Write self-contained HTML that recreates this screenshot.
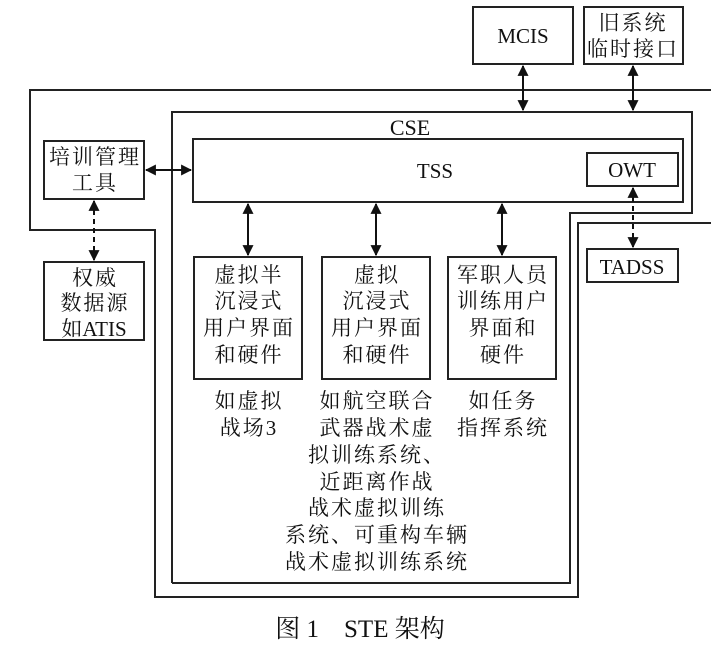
<!DOCTYPE html>
<html><head><meta charset="utf-8"><style>
html,body{margin:0;padding:0;background:#fff;}
text{font-family:"Liberation Serif","Noto Serif CJK SC","Noto Sans CJK SC",serif;fill:#111;}
.c{letter-spacing:2px;}
</style></head><body>
<svg width="711" height="645" viewBox="0 0 711 645" xmlns="http://www.w3.org/2000/svg">
<defs>
<marker id="a" viewBox="0 0 10 10" refX="9" refY="5" markerWidth="5.5" markerHeight="5.5" orient="auto-start-reverse"><path d="M0,0L10,5L0,10z" fill="#111"/></marker>
</defs>
<g fill="none" stroke="#222" stroke-width="2">
<polyline points="711,90 30,90 30,230 155,230 155,597 578,597 578,223 711,223"/>
<polyline points="172,583 172,112 692,112 692,213 570,213 570,583 172,583"/>
<rect x="193" y="139" width="490" height="63"/>
<rect x="587" y="153" width="91" height="33"/>
<rect x="44" y="141" width="100" height="58"/>
<rect x="44" y="262" width="100" height="78"/>
<rect x="473" y="7" width="100" height="57"/>
<rect x="584" y="7" width="99" height="57"/>
<rect x="587" y="249" width="91" height="33"/>
<rect x="194" y="257" width="108" height="122"/>
<rect x="322" y="257" width="108" height="122"/>
<rect x="448" y="257" width="108" height="122"/>
</g>
<g stroke="#111" stroke-width="2" marker-start="url(#a)" marker-end="url(#a)">
<line x1="523" y1="66" x2="523" y2="110"/>
<line x1="633" y1="66" x2="633" y2="110"/>
<line x1="146" y1="170" x2="191" y2="170"/>
<line x1="248" y1="204" x2="248" y2="255"/>
<line x1="376" y1="204" x2="376" y2="255"/>
<line x1="502" y1="204" x2="502" y2="255"/>
<line x1="94" y1="201" x2="94" y2="260" stroke-dasharray="5,4"/>
<line x1="633" y1="188" x2="633" y2="247" stroke-dasharray="5,4"/>
</g>
<g font-size="21" text-anchor="middle">
<text x="523" y="43">MCIS</text>
<text x="633" y="30" class="c">旧系统</text>
<text x="633" y="56" class="c">临时接口</text>
<text x="410" y="135" font-size="22">CSE</text>
<text x="435" y="178">TSS</text>
<text x="632" y="177">OWT</text>
<text x="632" y="274">TADSS</text>
<text x="95" y="164" class="c">培训管理</text>
<text x="95" y="190" class="c">工具</text>
<text x="95" y="285" class="c">权威</text>
<text x="95" y="310" class="c">数据源</text>
<text x="94" y="336">如ATIS</text>
<text x="249" y="282" class="c">虚拟半</text>
<text x="249" y="308" class="c">沉浸式</text>
<text x="249" y="335" class="c">用户界面</text>
<text x="249" y="362" class="c">和硬件</text>
<text x="377" y="282" class="c">虚拟</text>
<text x="377" y="308" class="c">沉浸式</text>
<text x="377" y="335" class="c">用户界面</text>
<text x="377" y="362" class="c">和硬件</text>
<text x="503" y="282" class="c">军职人员</text>
<text x="503" y="308" class="c">训练用户</text>
<text x="503" y="335" class="c">界面和</text>
<text x="503" y="362" class="c">硬件</text>
<text x="249" y="408" class="c">如虚拟</text>
<text x="249" y="435" class="c">战场3</text>
<text x="377" y="408" class="c">如航空联合</text>
<text x="377" y="435" class="c">武器战术虚</text>
<text x="377" y="462" class="c">拟训练系统、</text>
<text x="377" y="489" class="c">近距离作战</text>
<text x="377" y="515" class="c">战术虚拟训练</text>
<text x="377" y="542" class="c">系统、可重构车辆</text>
<text x="377" y="569" class="c">战术虚拟训练系统</text>
<text x="503" y="408" class="c">如任务</text>
<text x="503" y="435" class="c">指挥系统</text>
<text x="360" y="637" font-size="25">图 1　STE 架构</text>
</g>
</svg>
</body></html>
